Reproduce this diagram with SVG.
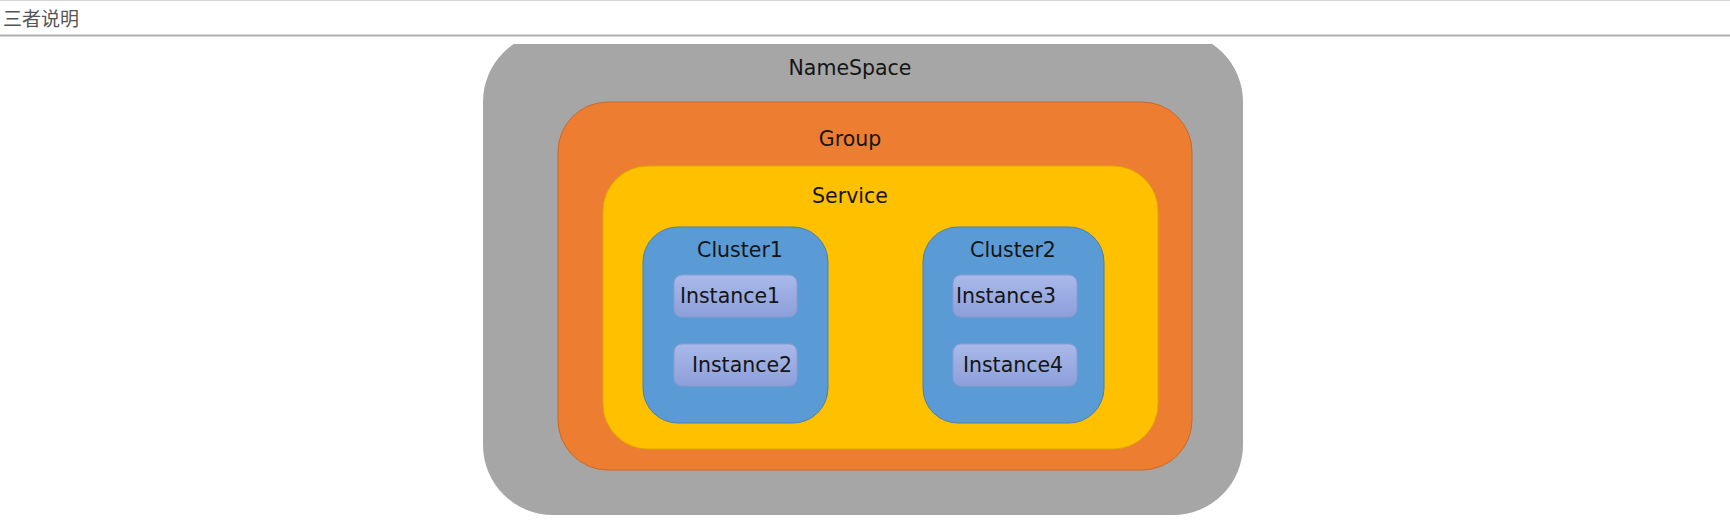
<svg xmlns="http://www.w3.org/2000/svg" width="1730" height="522" viewBox="0 0 1730 522">
<defs>
<linearGradient id="instGrad" x1="0" y1="0" x2="0" y2="1">
<stop offset="0" stop-color="#a9b9ea"/>
<stop offset="1" stop-color="#8c9fd9"/>
</linearGradient>
<clipPath id="below"><rect x="0" y="44" width="1730" height="478"/></clipPath>
</defs>
<style>
.lbl{font-family:"DejaVu Sans","Noto Sans",sans-serif;font-size:20.5px;fill:#151515;text-anchor:middle}
.inst{fill:url(#instGrad);stroke:#8a9bd0;stroke-width:1}
</style>
<rect x="0" y="0" width="1730" height="522" fill="#ffffff"/>
<g id="header">
<line x1="0" y1="0.5" x2="1730" y2="0.5" stroke="#d4d4d4" stroke-width="1"/>
<text x="3" y="26" font-family="Noto Sans CJK SC, sans-serif" font-size="19" fill="#555555">三者说明</text>
<line x1="0" y1="35.5" x2="1730" y2="35.5" stroke="#b0b0b0" stroke-width="2"/>
</g>
<g id="namespace" clip-path="url(#below)">
<rect x="483" y="32" width="760" height="483" rx="70" ry="70" fill="#a6a6a6"/>
</g>
<text class="lbl" x="850" y="75" font-size="21">NameSpace</text>
<g id="group">
<rect x="558" y="102" width="634" height="368" rx="50" ry="50" fill="#ed7d31" stroke="#c86a2a" stroke-width="1"/>
<text class="lbl" x="850" y="146">Group</text>
</g>
<g id="service">
<rect x="603" y="166" width="555" height="283" rx="45" ry="45" fill="#ffc000" stroke="#e0a800" stroke-width="1"/>
<text class="lbl" x="850" y="203">Service</text>
</g>
<g id="cluster1">
<rect x="643" y="227" width="185" height="196" rx="35" ry="35" fill="#5b9bd5" stroke="#4a7fae" stroke-width="1"/>
<text class="lbl" x="740" y="257">Cluster1</text>
</g>
<g id="instance1">
<rect class="inst" x="674" y="275" width="123" height="42" rx="8" ry="8"/>
<text class="lbl" x="730" y="303">Instance1</text>
</g>
<g id="instance2">
<rect class="inst" x="674" y="344" width="123" height="42" rx="8" ry="8"/>
<text class="lbl" x="742" y="372">Instance2</text>
</g>
<g id="cluster2">
<rect x="923" y="227" width="181" height="196" rx="35" ry="35" fill="#5b9bd5" stroke="#4a7fae" stroke-width="1"/>
<text class="lbl" x="1013" y="257">Cluster2</text>
</g>
<g id="instance3">
<rect class="inst" x="953" y="275" width="124" height="42" rx="8" ry="8"/>
<text class="lbl" x="1006" y="303">Instance3</text>
</g>
<g id="instance4">
<rect class="inst" x="953" y="344" width="124" height="42" rx="8" ry="8"/>
<text class="lbl" x="1013" y="372">Instance4</text>
</g>
<g id="connectors"/>
</svg>
